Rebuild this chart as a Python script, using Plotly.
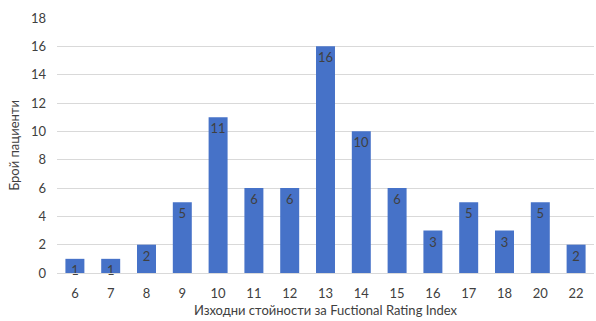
import plotly.graph_objects as go

# Baseline Functional Rating Index scores and patient counts
scores = ["6", "7", "8", "9", "10", "11", "12", "13", "14", "15", "16", "17", "18", "20", "22"]
patients = [1, 1, 2, 5, 11, 6, 6, 16, 10, 6, 3, 5, 3, 5, 2]
y_ticks = [0, 2, 4, 6, 8, 10, 12, 14, 16, 18]

FONT = "Lato, Calibri, Carlito, sans-serif"

fig = go.Figure(
    go.Bar(
        x=scores,
        y=patients,
        text=[str(v) for v in patients],
        textposition="inside",
        insidetextanchor="end",
        textangle=0,
        textfont=dict(family=FONT, size=13, color="#404040"),
        marker=dict(color="#4672c8", line=dict(width=0)),
        cliponaxis=False,
    )
)

fig.update_layout(
    width=596,
    height=321,
    margin=dict(l=57, r=2, t=18, b=48),
    paper_bgcolor="white",
    plot_bgcolor="white",
    bargap=0.47,
    showlegend=False,
    uniformtext=dict(minsize=13, mode="show"),
    font=dict(family=FONT, size=13, color="#595959"),
)

fig.update_xaxes(
    type="category",
    showgrid=False,
    showline=True,
    linecolor="#d9d9d9",
    ticks="",
    ticklabelstandoff=8,
    tickfont=dict(size=13, color="#404040"),
    title=dict(text="Изходни стойности за Fuctional Rating Index",
               font=dict(size=13, color="#404040"), standoff=6),
)

fig.update_yaxes(
    range=[0, 18],
    tickvals=y_ticks,
    showgrid=True,
    gridcolor="#d9d9d9",
    zeroline=False,
    ticks="",
    ticklabelstandoff=10,
    tickfont=dict(size=13, color="#404040"),
    title=dict(text="Брой пациенти", font=dict(size=13, color="#404040"), standoff=8),
)

fig.write_html("out.html")
